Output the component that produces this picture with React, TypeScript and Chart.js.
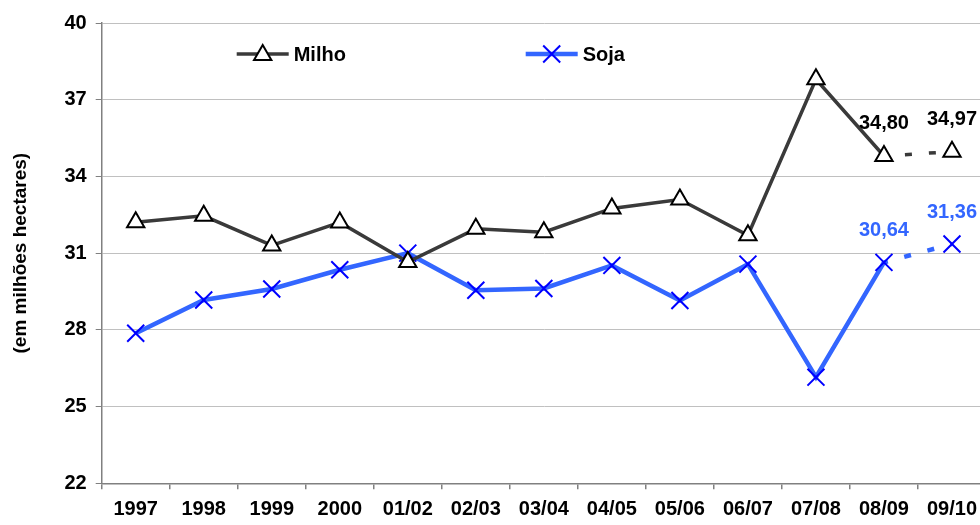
import React, { useEffect, useRef } from 'react';
import { Chart, registerables } from 'chart.js';

Chart.register(...registerables);

const categories = ['1997', '1998', '1999', '2000', '01/02', '02/03', '03/04', '04/05', '05/06', '06/07', '07/08', '08/09', '09/10'];
const milho = [32.21, 32.46, 31.3, 32.2, 30.65, 31.95, 31.82, 32.75, 33.1, 31.7, 37.8, 34.8, 34.97];
const soja = [27.87, 29.17, 29.6, 30.35, 31.0, 29.55, 29.62, 30.52, 29.15, 30.57, 26.15, 30.64, 31.36];
const milhoLabels = [null, null, null, null, null, null, null, null, null, null, null, '34,80', '34,97'];
const sojaLabels = [null, null, null, null, null, null, null, null, null, null, null, '30,64', '31,36'];
const yMin = 22;
const yMax = 40;
const yStep = 3;
const seriesNames = ['Milho', 'Soja'];
const yTitle = '(em milhões hectares)';

const FONT = '"Liberation Sans", Arial, sans-serif';
const MILHO_LINE = '#3a3a3a';
const SOJA_LINE = '#3366ff';
const SOJA_MARK = '#0000ff';

function drawTriangle(ctx: CanvasRenderingContext2D, x: number, y: number, r: number) {
  ctx.beginPath();
  ctx.moveTo(x, y - r);
  ctx.lineTo(x + 0.866 * r, y + 0.5 * r);
  ctx.lineTo(x - 0.866 * r, y + 0.5 * r);
  ctx.closePath();
  ctx.fillStyle = '#ffffff';
  ctx.fill();
  ctx.lineWidth = 2;
  ctx.strokeStyle = '#000000';
  ctx.stroke();
}

function drawX(ctx: CanvasRenderingContext2D, x: number, y: number, h: number) {
  ctx.beginPath();
  ctx.moveTo(x - h, y - h);
  ctx.lineTo(x + h, y + h);
  ctx.moveTo(x + h, y - h);
  ctx.lineTo(x - h, y + h);
  ctx.lineWidth = 2;
  ctx.strokeStyle = SOJA_MARK;
  ctx.stroke();
}

const legendPlugin = {
  id: 'customLegend',
  afterDraw(chart: any) {
    const { ctx, chartArea } = chart;
    const y = chartArea.top + 31;
    const items = [
      { dx: 135, color: MILHO_LINE, width: 3.5, kind: 'tri', name: seriesNames[0] },
      { dx: 424, color: SOJA_LINE, width: 4.5, kind: 'x', name: seriesNames[1] },
    ];
    ctx.save();
    items.forEach((it) => {
      const x0 = chartArea.left + it.dx;
      const x1 = x0 + 52;
      ctx.beginPath();
      ctx.moveTo(x0, y);
      ctx.lineTo(x1, y);
      ctx.lineWidth = it.width;
      ctx.strokeStyle = it.color;
      ctx.stroke();
      if (it.kind === 'tri') drawTriangle(ctx, (x0 + x1) / 2, y + 1, 10);
      else drawX(ctx, (x0 + x1) / 2, y, 8.5);
      ctx.fillStyle = '#000';
      ctx.font = `bold 20px ${FONT}`;
      ctx.textAlign = 'left';
      ctx.textBaseline = 'middle';
      ctx.fillText(it.name, x1 + 5, y + 1);
    });
    ctx.restore();
  },
};

const dataLabelPlugin = {
  id: 'valueLabels',
  afterDatasetsDraw(chart: any) {
    const { ctx } = chart;
    const sets = [
      { labels: milhoLabels, color: '#000000', off: 27 },
      { labels: sojaLabels, color: '#3366ff', off: 26 },
    ];
    ctx.save();
    ctx.font = `bold 20px ${FONT}`;
    ctx.textAlign = 'center';
    ctx.textBaseline = 'alphabetic';
    sets.forEach((s, di) => {
      const meta = chart.getDatasetMeta(di);
      meta.data.forEach((pt: any, i: number) => {
        const lab = s.labels[i];
        if (!lab) return;
        ctx.fillStyle = s.color;
        ctx.fillText(lab, pt.x, pt.y - s.off);
      });
    });
    ctx.restore();
  },
};

export default function App() {
  const ref = useRef<HTMLCanvasElement | null>(null);

  useEffect(() => {
    if (!ref.current) return;
    const dashLast = (c: any) => (c.p0DataIndex >= 11 ? [7, 17] : undefined);
    const dashOff = (c: any) => (c.p0DataIndex >= 11 ? 3 : 0);
    const chart = new Chart(ref.current, {
      type: 'line',
      data: {
        labels: categories,
        datasets: [
          {
            label: seriesNames[0],
            data: milho,
            borderColor: MILHO_LINE,
            borderWidth: 3.5,
            pointStyle: 'triangle',
            pointRadius: 10,
            pointHoverRadius: 10,
            pointBackgroundColor: '#ffffff',
            pointBorderColor: '#000000',
            pointBorderWidth: 2,
            tension: 0,
            segment: { borderDash: dashLast, borderDashOffset: dashOff },
          },
          {
            label: seriesNames[1],
            data: soja,
            borderColor: SOJA_LINE,
            borderWidth: 4.5,
            pointStyle: 'crossRot',
            pointRadius: 12,
            pointHoverRadius: 12,
            pointBackgroundColor: SOJA_MARK,
            pointBorderColor: SOJA_MARK,
            pointBorderWidth: 2,
            tension: 0,
            segment: { borderDash: dashLast, borderDashOffset: dashOff },
          },
        ],
      },
      options: {
        responsive: false,
        animation: false,
        layout: { padding: { top: 23, right: 12, bottom: 0, left: 0 } },
        plugins: {
          legend: { display: false },
          tooltip: { enabled: false },
        },
        scales: {
          x: {
            offset: true,
            grid: {
              display: true,
              offset: true,
              drawOnChartArea: false,
              tickLength: 6,
              tickColor: '#808080',
              lineWidth: 1.5,
            },
            border: { color: '#808080', width: 1.5 },
            ticks: {
              color: '#000',
              font: { family: FONT, size: 20, weight: 'bold' },
              padding: 8,
              maxRotation: 0,
              autoSkip: false,
            },
            afterFit: (s: any) => {
              s.height = 41.7;
            },
          },
          y: {
            min: yMin,
            max: yMax,
            ticks: {
              stepSize: yStep,
              color: '#000',
              font: { family: FONT, size: 20, weight: 'bold' },
              padding: 9,
            },
            grid: {
              color: '#c0c0c0',
              lineWidth: 1,
              tickLength: 6,
              tickColor: '#808080',
            },
            border: { color: '#808080', width: 1.5 },
            title: {
              display: true,
              text: yTitle,
              color: '#000',
              font: { family: FONT, size: 19, weight: 'bold' },
              padding: { top: 9, bottom: 0 },
            },
            afterFit: (s: any) => {
              s.width = 101.7;
            },
          },
        },
      },
      plugins: [dataLabelPlugin, legendPlugin],
    });
    return () => chart.destroy();
  }, []);

  return (
    <div style={{ position: 'absolute', left: 0, top: 0, width: 980, height: 525, overflow: 'hidden', background: '#fff' }}>
      <canvas ref={ref} width={1000} height={525} style={{ display: 'block', width: 1000, height: 525 }} />
    </div>
  );
}
